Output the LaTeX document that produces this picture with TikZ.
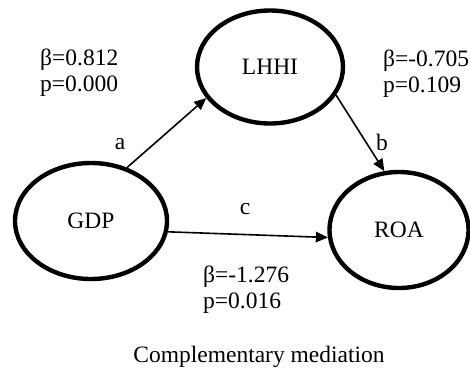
\documentclass[tikz,border=0pt]{standalone}
\usepackage{fontspec}
\setmainfont{Liberation Serif}
\usepackage{tikz}
\usetikzlibrary{arrows.meta, shapes.geometric}
\newcommand{\coef}[2]{β=#1\\p=#2}

\begin{document}
\begin{tikzpicture}[x=1pt, y=-1pt,
    latent/.style={draw, ellipse, line width=4.4pt, inner sep=0pt,
                   font=\fontsize{23.5}{26}\selectfont},
    effect/.style={-{Triangle[length=12pt,width=10.5pt]}, line width=1.6pt},
    txt/.style={font=\fontsize{23.5}{26}\selectfont, inner sep=0pt},
    stat/.style={txt, align=left, anchor=west}]
  \useasboundingbox (0,0) rectangle (470,373);
  %---- latent variables ------------------------------------------------------
  \node[latent, minimum width=146pt, minimum height=113pt] (lhhi) at (270,67) {LHHI};
  \node[latent, minimum width=152pt, minimum height=116pt] (gdp) at (91,221) {GDP};
  \node[latent, minimum width=139pt, minimum height=116pt] (roa) at (399,230) {ROA};
  %---- paths a, b, c ---------------------------------------------------------
  \draw[effect] (gdp.56) -- (lhhi.206);
  \draw[effect] (lhhi.337) -- (roa.104);
  \draw[effect] (gdp.352) -- (roa.186);
  \node[txt] (la) at (120,144) {a};
  \node[txt] (lb) at (382,142) {b};
  \node[txt] (lc) at (245,209) {c};
  %---- coefficients ----------------------------------------------------------
  \node[stat] (sa) at (40,73) {\coef{0.812}{0.000}};
  \node[stat] (sb) at (383,74) {\coef{-0.705}{0.109}};
  \node[stat] (sc) at (203,290) {\coef{-1.276}{0.016}};
  \node[txt] (cap) at (259,357) {Complementary mediation};
\end{tikzpicture}
\end{document}
